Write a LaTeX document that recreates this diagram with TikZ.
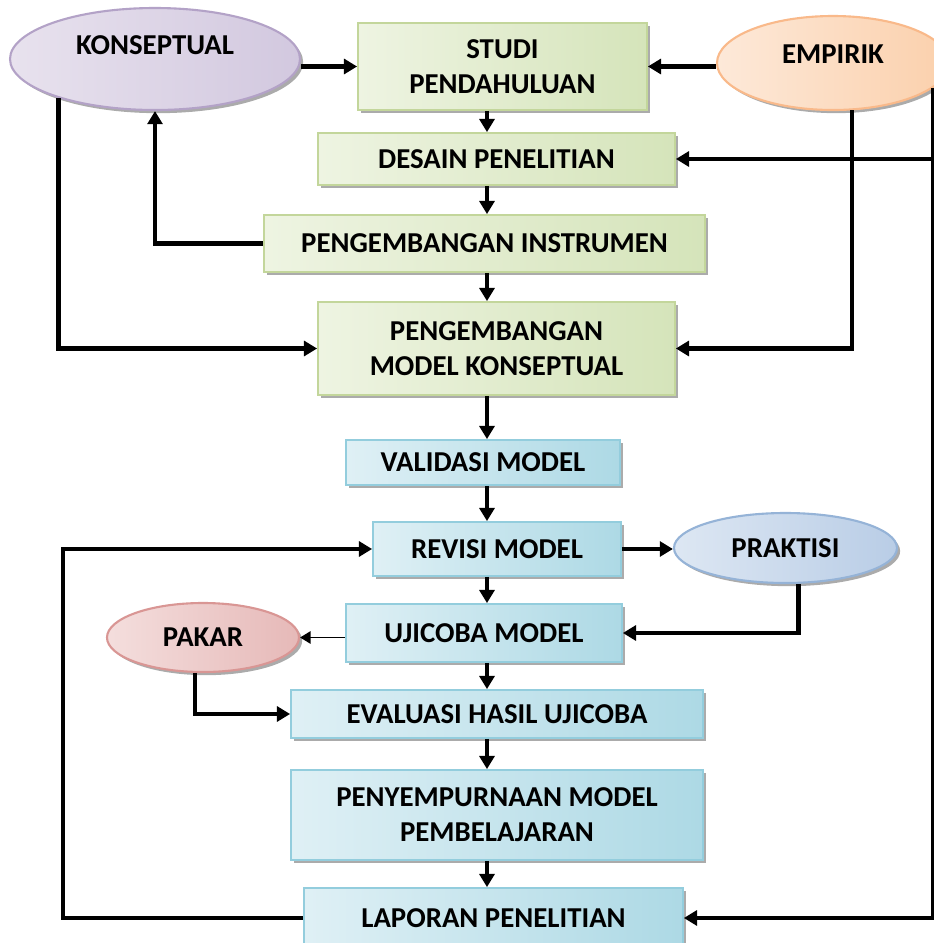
\documentclass[tikz,border=0pt]{standalone}
\usepackage{fontspec}
\setmainfont{Carlito}
\usetikzlibrary{shapes.geometric,shadows,arrows.meta}
\definecolor{grnlight}{HTML}{EEF4E2}
\definecolor{grndark}{HTML}{D5E4BA}
\definecolor{grnline}{HTML}{C3D69B}
\definecolor{blulight}{HTML}{DFF0F5}
\definecolor{bludark}{HTML}{ADD9E5}
\definecolor{bluline}{HTML}{93CDDD}
\definecolor{purlight}{HTML}{E8E2EE}
\definecolor{purdark}{HTML}{D2C8DF}
\definecolor{purline}{HTML}{B3A2C7}
\definecolor{orglight}{HTML}{FDE9D9}
\definecolor{orgdark}{HTML}{FBD0AC}
\definecolor{orgline}{HTML}{F9B98A}
\definecolor{skylight}{HTML}{DDE7F3}
\definecolor{skydark}{HTML}{B9CDE6}
\definecolor{skyline}{HTML}{95B3D7}
\definecolor{pnklight}{HTML}{F4DEDD}
\definecolor{pnkdark}{HTML}{E6B9B8}
\definecolor{pnkline}{HTML}{D99694}

\begin{document}
\begin{tikzpicture}[scale=0.2]
\tikzstyle{every node}+=[inner sep=0pt, font={\fontsize{16.4}{20}\selectfont\bfseries}]
\tikzstyle{shade}=[drop shadow={shadow xshift=1.8pt, shadow yshift=-1.8pt, fill=black!55, opacity=0.6}]
\tikzstyle{greenbox}=[rectangle, draw=grnline, line width=1pt, left color=grnlight, right color=grndark, align=center, shade]
\tikzstyle{bluebox}=[rectangle, draw=bluline, line width=1pt, left color=blulight, right color=bludark, align=center, shade]
\tikzstyle{oval}=[ellipse, line width=1.2pt, shade]
\tikzstyle{arr}=[line width=2.6pt, -{Triangle[length=7.5pt,width=8.5pt]}]
\tikzstyle{thinarr}=[line width=1pt, -{Triangle[length=6pt,width=7pt]}]
\useasboundingbox (0,0) rectangle (93.4,-94.3);
\node [oval, draw=purline, left color=purlight, right color=purdark, minimum width=5.8cm, minimum height=2.04cm, label={[yshift=8pt]center:KONSEPTUAL}] (konsep) at (15.5,-5.9) {};
\node [oval, draw=orgline, left color=orglight, right color=orgdark, minimum width=4.64cm, minimum height=1.88cm, label={[yshift=5pt]center:EMPIRIK}] (empirik) at (83.3,-6.3) {};
\node [greenbox, minimum width=5.78cm, minimum height=1.74cm] (studi) at (50.25,-6.65) {STUDI\\PENDAHULUAN};
\node [greenbox, minimum width=7.14cm, minimum height=1.04cm] (desain) at (49.65,-15.9) {DESAIN PENELITIAN};
\node [greenbox, minimum width=8.82cm, minimum height=1.14cm] (instr) at (48.45,-24.35) {PENGEMBANGAN INSTRUMEN};
\node [greenbox, minimum width=7.14cm, minimum height=1.86cm] (pmk) at (49.65,-34.85) {PENGEMBANGAN\\MODEL KONSEPTUAL};
\node [bluebox, minimum width=5.48cm, minimum height=0.9cm] (valid) at (48.3,-46.25) {VALIDASI MODEL};
\node [bluebox, minimum width=4.96cm, minimum height=1.08cm] (revisi) at (49.7,-54.9) {REVISI MODEL};
\node [oval, draw=skyline, left color=skylight, right color=skydark, minimum width=4.46cm, minimum height=1.4cm] (praktisi) at (78.55,-54.8) {PRAKTISI};
\node [bluebox, minimum width=5.52cm, minimum height=1.16cm] (uji) at (48.4,-63.3) {UJICOBA MODEL};
\node [oval, draw=pnkline, left color=pnklight, right color=pnkdark, minimum width=3.84cm, minimum height=1.38cm] (pakar) at (20.3,-63.75) {PAKAR};
\node [bluebox, minimum width=8.24cm, minimum height=0.96cm] (eval) at (49.7,-71.4) {EVALUASI HASIL UJICOBA};
\node [bluebox, minimum width=8.24cm, minimum height=1.8cm] (peny) at (49.7,-81.5) {PENYEMPURNAAN MODEL\\PEMBELAJARAN};
\node [bluebox, minimum width=7.58cm, minimum height=1.2cm] (laporan) at (49.35,-91.8) {LAPORAN PENELITIAN};
\coordinate (spine) at (48.7,0);
\coordinate (rline) at (empirik.346);
\draw [arr] (konsep.east |- studi.west) -- (studi.west);
\draw [arr] (empirik.west |- studi.east) -- (studi.east);
\draw [arr] (studi.south -| spine) -- (desain.north -| spine);
\draw [arr] (desain.south -| spine) -- (instr.north -| spine);
\draw [arr] (instr.south -| spine) -- (pmk.north -| spine);
\draw [arr] (pmk.south -| spine) -- (valid.north -| spine);
\draw [arr] (valid.south -| spine) -- (revisi.north -| spine);
\draw [arr] (revisi.south -| spine) -- (uji.north -| spine);
\draw [arr] (uji.south -| spine) -- (eval.north -| spine);
\draw [arr] (eval.south -| spine) -- (peny.north -| spine);
\draw [arr] (peny.south -| spine) -- (laporan.north -| spine);
\draw [arr] (instr.west) -| (konsep.south);
\draw [arr] (konsep.202) |- (pmk.west);
\draw [arr] (empirik.292) |- (pmk.east);
\draw [arr] (rline) |- (laporan.east);
\draw [arr] (desain.east -| rline) -- (desain.east);
\draw [arr] (revisi.east) -- (praktisi.west |- revisi.east);
\draw [arr] (laporan.west) -- ++(-24,0) |- (revisi.west);
\draw [thinarr] (uji.west |- pakar.east) -- (pakar.east);
\draw [arr] (praktisi.290) |- (uji.east);
\draw [arr] (pakar.257) |- (eval.west);
\end{tikzpicture}
\end{document}
